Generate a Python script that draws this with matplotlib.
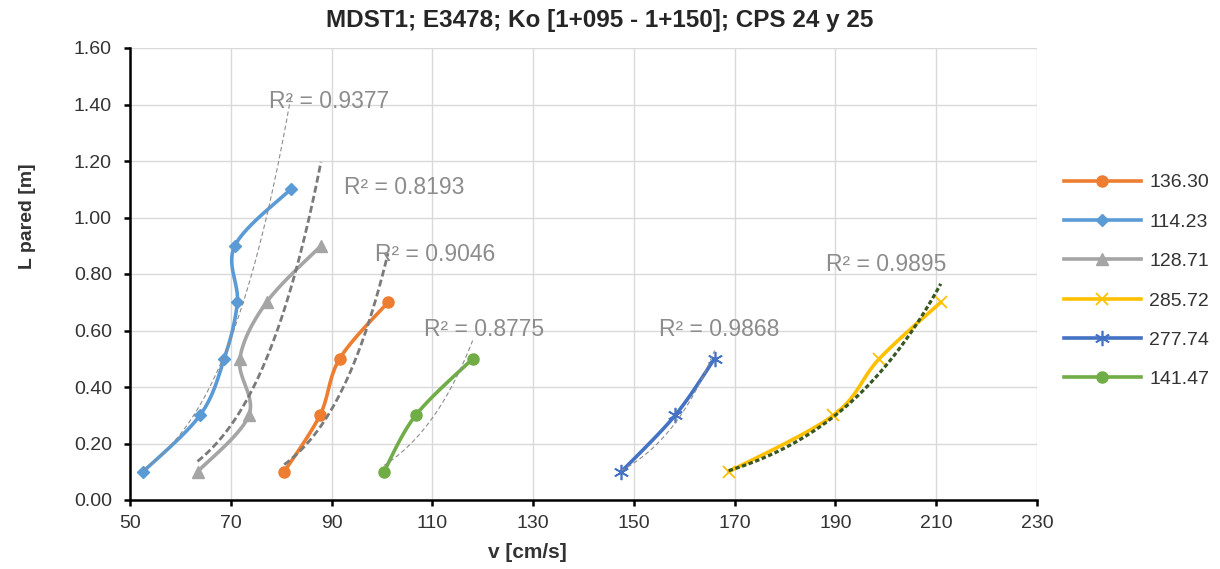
import numpy as np
import matplotlib
matplotlib.use("Agg")
import matplotlib.pyplot as plt
from matplotlib.lines import Line2D

plt.rcParams['font.family'] = ['Liberation Sans', 'DejaVu Sans']

# --- data -------------------------------------------------------------
series_names = ["136.30", "114.23", "128.71", "285.72", "277.74", "141.47"]

v_136 = [80.6, 87.7, 91.6, 101.2]
l_136 = [0.10, 0.30, 0.50, 0.70]

v_114 = [52.6, 63.9, 68.7, 71.3, 70.8, 81.9]
l_114 = [0.10, 0.30, 0.50, 0.70, 0.90, 1.10]

v_128 = [63.4, 73.6, 71.8, 77.1, 87.9]
l_128 = [0.10, 0.30, 0.50, 0.70, 0.90]

v_285 = [168.8, 189.6, 198.7, 210.9]
l_285 = [0.10, 0.30, 0.50, 0.70]

v_277 = [147.5, 158.2, 166.0]
l_277 = [0.10, 0.30, 0.50]

v_141 = [100.4, 106.7, 118.0]
l_141 = [0.10, 0.30, 0.50]

r2_labels = ["R² = 0.9046", "R² = 0.9377", "R² = 0.8193",
             "R² = 0.9895", "R² = 0.9868", "R² = 0.8775"]
r2_pos = [(98.7, 0.87), (77.5, 1.41), (92.5, 1.105),
          (188.2, 0.835), (155.0, 0.605), (108.4, 0.603)]

x_ticks = list(range(50, 231, 20))
y_ticks = [0.0, 0.2, 0.4, 0.6, 0.8, 1.0, 1.2, 1.4, 1.6]

# --- styles -----------------------------------------------------------
colors = ["#ED7D31", "#5B9BD5", "#A5A5A5", "#FFC000", "#4472C4", "#70AD47"]
markers = ["o", "D", "^", "x", (6, 2, 0), "o"]
msizes = [8, 6.5, 9, 9, 11, 8]
mews = [1, 1, 1, 1.3, 1.2, 1]

thin_trend = dict(color="#8c8c8c", lw=0.8, dashes=(4, 2.5))
thick_trend = dict(color="#7a7a7a", lw=2.0, dashes=(2.5, 1.2))
green_trend = dict(color="#385723", lw=2.3, dashes=(1.4, 0.8))
trend_styles = [thick_trend, thin_trend, thick_trend,
                green_trend, thin_trend, thin_trend]

fig = plt.figure(figsize=(12.2, 5.69), dpi=100)
ax = fig.add_axes([130 / 1220, 1 - 500 / 569, 907 / 1220, 452 / 569])
ax.set_xlim(50, 230)
ax.set_ylim(0, 1.6)
ax.set_xticks(x_ticks)
ax.set_yticks(y_ticks)
ax.set_yticklabels([f"{t:.2f}" for t in y_ticks])
ax.grid(True, color="#d9d9d9", lw=1.0)
ax.set_axisbelow(True)
for s in ["top", "right"]:
    ax.spines[s].set_visible(False)
for s in ["left", "bottom"]:
    ax.spines[s].set_linewidth(1.8)
    ax.spines[s].set_color("black")
ax.tick_params(direction="out", length=4, width=1.8, labelsize=14,
               colors="black", labelcolor="#333333")
ax.tick_params(axis="y", pad=9)
ax.tick_params(axis="x", pad=7)


def smooth(xs, ys, n=30):
    """Excel-style smoothed line: cubic Bezier with Catmull-Rom tangents
    computed in display space."""
    pts = ax.transData.transform(np.column_stack([xs, ys]))
    P = np.vstack([pts[0], pts, pts[-1]])
    out = [pts[0]]
    t = np.linspace(0, 1, n)[1:, None]
    for i in range(1, len(P) - 2):
        p0, p1, p2, p3 = P[i - 1], P[i], P[i + 1], P[i + 2]
        c1 = p1 + (p2 - p0) / 6.0
        c2 = p2 - (p3 - p1) / 6.0
        seg = ((1 - t) ** 3) * p1 + 3 * ((1 - t) ** 2) * t * c1 \
            + 3 * (1 - t) * t ** 2 * c2 + t ** 3 * p2
        out.extend(seg)
    out = np.array(out)
    d = ax.transData.inverted().transform(out)
    return d[:, 0], d[:, 1]


def power_trend(xs, ys, n=100):
    b, lna = np.polyfit(np.log(xs), np.log(ys), 1)
    xx = np.linspace(min(xs), max(xs), n)
    return xx, np.exp(lna) * xx ** b


all_v = [v_136, v_114, v_128, v_285, v_277, v_141]
all_l = [l_136, l_114, l_128, l_285, l_277, l_141]

handles = []
for i, (vx, ly) in enumerate(zip(all_v, all_l)):
    sx, sy = smooth(vx, ly)
    ax.plot(sx, sy, color=colors[i], lw=2.6, solid_capstyle="round", zorder=3)
    ax.plot(vx, ly, linestyle="none", marker=markers[i], ms=msizes[i],
            color=colors[i], mew=mews[i], zorder=4)
    tx, ty = power_trend(vx, ly)
    st = trend_styles[i]
    ax.plot(tx, ty, color=st["color"], lw=st["lw"], dashes=st["dashes"],
            zorder=5)
    ax.text(r2_pos[i][0], r2_pos[i][1], r2_labels[i], fontsize=16.5,
            color="#8c8c8c", va="center", ha="left", zorder=6)
    handles.append(Line2D([], [], color=colors[i], lw=2.6,
                          marker=markers[i], ms=msizes[i], mew=mews[i]))

fig.legend(handles, series_names, loc="center left",
           bbox_to_anchor=(1046 / 1220, 1 - 281 / 569), frameon=False,
           fontsize=14, handlelength=4.0, labelspacing=1.12,
           handletextpad=0.4, labelcolor="#333333")

fig.text(600 / 1220, 1 - 21 / 569, "MDST1; E3478; Ko [1+095 - 1+150]; CPS 24 y 25",
         ha="center", va="center", fontsize=17.5, fontweight="bold",
         color="#262626")
fig.text(527 / 1220, 1 - 553 / 569, "v [cm/s]", ha="center", va="center",
         fontsize=15, fontweight="bold", color="#333333")
fig.text(27 / 1220, 1 - 216 / 569, "L pared [m]", ha="center", va="center",
         rotation=90, fontsize=14, fontweight="bold", color="#333333")

fig.savefig("out.png", dpi=100, facecolor="white")
